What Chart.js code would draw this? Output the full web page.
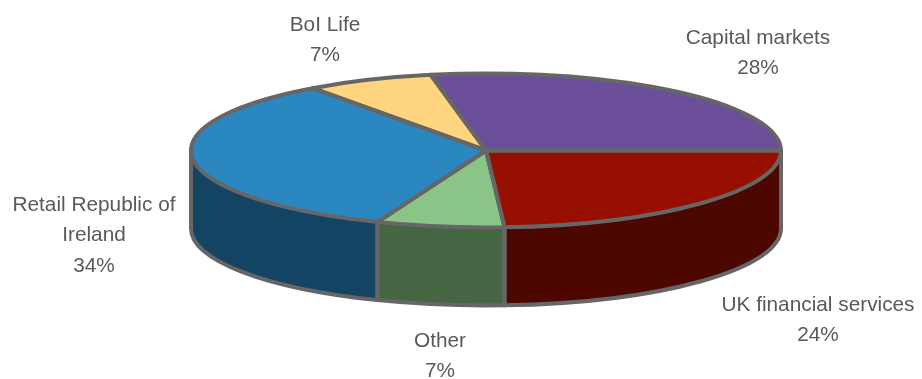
<!DOCTYPE html>
<html>
<head>
<meta charset="utf-8">
<style>html,body{margin:0;padding:0;background:#fff}canvas{display:block}</style>
<script src="https://cdn.jsdelivr.net/npm/chart.js@4"></script>
</head>
<body>
<canvas id="c" width="922" height="379"></canvas>
<script>
const categories = ['Capital markets', 'UK financial services', 'Other', 'Retail Republic of Ireland', 'BoI Life'];
const shares = [28, 24, 7, 34, 7];
const topColors = ['#6B4F9A', '#960F00', '#8AC587', '#2A87C0', '#FFD580'];
const wallColors = ['#3F2E5C', '#4B0700', '#456543', '#134463', '#997F4C'];
const labelCentres = [[758, 38], [818, 305], [440, 341], [94, 205], [325, 25]];

const DISC = {cx: 486, cy: 150.5, rx: 295, ry: 77, depth: 78};
const STROKE = '#666666';
const TEXT = '#595959';
const FONT = '20.8px "Liberation Sans", Arial, sans-serif';
const LINE = 30.7;

function wrap(ctx, text, maxW) {
  const out = []; let cur = '';
  text.split(' ').forEach(w => {
    const t = cur ? cur + ' ' + w : w;
    if (cur && ctx.measureText(t).width > maxW) { out.push(cur); cur = w; } else cur = t;
  });
  out.push(cur);
  return out;
}

const pie3d = {
  id: 'pie3d',
  beforeDatasetsDraw(chart) {
    const ctx = chart.ctx, arcs = chart.getDatasetMeta(0).data, d = DISC;
    // side walls of the front half
    arcs.forEach((a, i) => {
      const s = Math.max(a.startAngle, 0), e = Math.min(a.endAngle, Math.PI);
      if (e <= s + 1e-6) return;
      ctx.beginPath();
      ctx.ellipse(d.cx, d.cy, d.rx, d.ry, 0, s, e);
      ctx.ellipse(d.cx, d.cy + d.depth, d.rx, d.ry, 0, e, s, true);
      ctx.closePath();
      ctx.fillStyle = wallColors[i];
      ctx.fill();
    });
    // squash the library's pie into the disc's top face
    const a0 = arcs[0];
    ctx.save();
    ctx.translate(d.cx, d.cy);
    ctx.scale(1, d.ry / d.rx);
    ctx.translate(-a0.x, -a0.y);
  },
  afterDatasetsDraw(chart) {
    const ctx = chart.ctx, arcs = chart.getDatasetMeta(0).data, d = DISC;
    ctx.restore();
    ctx.strokeStyle = STROKE;
    ctx.lineWidth = 4;
    ctx.lineJoin = 'round';
    ctx.lineCap = 'round';
    // wall outlines
    arcs.forEach(a => {
      const s = Math.max(a.startAngle, 0), e = Math.min(a.endAngle, Math.PI);
      if (e <= s + 1e-6) return;
      ctx.beginPath();
      ctx.ellipse(d.cx, d.cy + d.depth, d.rx, d.ry, 0, s, e);
      ctx.stroke();
      [s, e].forEach(t => {
        const x = d.cx + d.rx * Math.cos(t), y = d.cy + d.ry * Math.sin(t);
        ctx.beginPath(); ctx.moveTo(x, y); ctx.lineTo(x, y + d.depth); ctx.stroke();
      });
    });
    // top face outlines
    arcs.forEach(a => {
      ctx.beginPath();
      ctx.moveTo(d.cx, d.cy);
      ctx.ellipse(d.cx, d.cy, d.rx, d.ry, 0, a.startAngle, a.endAngle);
      ctx.closePath();
      ctx.stroke();
    });
    // labels
    ctx.font = FONT;
    ctx.fillStyle = TEXT;
    ctx.textAlign = 'center';
    ctx.textBaseline = 'middle';
    categories.forEach((c, i) => {
      const [x, y] = labelCentres[i];
      const lines = wrap(ctx, c, 200).concat(shares[i] + '%');
      lines.forEach((l, k) => ctx.fillText(l, x, y + k * LINE));
    });
  }
};

new Chart(document.getElementById('c'), {
  type: 'pie',
  data: {
    labels: categories,
    datasets: [{data: shares, backgroundColor: topColors, borderWidth: 0, radius: DISC.rx, clip: false}]
  },
  options: {
    responsive: false,
    animation: false,
    rotation: -10.8,
    plugins: {legend: {display: false}, tooltip: {enabled: false}}
  },
  plugins: [pie3d]
});
</script>
</body>
</html>
